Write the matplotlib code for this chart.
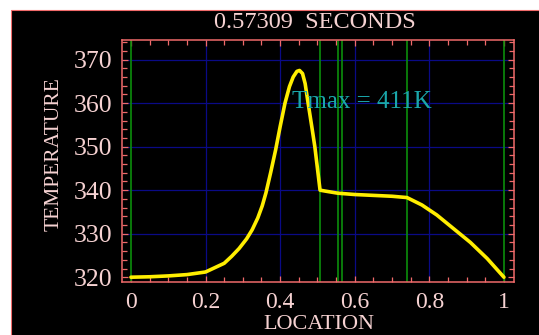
import matplotlib
matplotlib.use("Agg")
import matplotlib.pyplot as plt
from matplotlib.patches import Rectangle
from matplotlib.ticker import MultipleLocator

# Temperature profile along the normalised location
location = [0.0, 0.05, 0.10, 0.15, 0.20, 0.25, 0.27, 0.29, 0.31, 0.325,
            0.34, 0.352, 0.362, 0.375, 0.388, 0.40, 0.413, 0.425, 0.435,
            0.445, 0.452, 0.46, 0.467, 0.475, 0.485, 0.493, 0.50, 0.507,
            0.52, 0.555, 0.60, 0.65, 0.70, 0.74, 0.78, 0.82, 0.86, 0.91,
            0.955, 1.0]
temperature = [320.0, 320.1, 320.3, 320.6, 321.2, 323.2, 324.8, 326.6, 328.8,
               330.9, 333.6, 336.4, 339.4, 344.2, 349.3, 354.6, 360.0, 363.8,
               366.0, 367.3, 367.5, 366.8, 364.5, 360.0, 354.5, 350.0, 345.0,
               340.0, 339.8, 339.3, 339.0, 338.8, 338.6, 338.3, 336.6, 334.3,
               331.5, 328.0, 324.3, 320.0]

# Interface / node positions marked with vertical lines
interfaces = [0.0, 0.508, 0.556, 0.566, 0.739, 1.0]

x_ticks = [0, 0.2, 0.4, 0.6, 0.8, 1]
x_tick_labels = ["0", "0.2", "0.4", "0.6", "0.8", "1"]
y_ticks = [320, 330, 340, 350, 360, 370]

elapsed = "0.57309"
tmax_label = "Tmax = 411K"

SERIF = ["Liberation Serif", "DejaVu Serif"]
TXT = "#f6d2d2"
PINK = "#f06a6a"

fig = plt.figure(figsize=(5.39, 3.35), dpi=100)
fig.patch.set_facecolor("white")
fig.patches.append(Rectangle((11 / 539, -0.01), 1.0, 1 - 9.5 / 335 + 0.01,
                             transform=fig.transFigure, facecolor="black",
                             edgecolor=PINK, linewidth=0.8, zorder=-10))

ax = fig.add_axes([122 / 539, 1 - 282 / 335, 392 / 539, 242 / 335])
ax.set_zorder(5)
ax.set_facecolor("black")
ax.set_xlim(-0.024, 1.027)
ax.set_ylim(318.9, 374.5)

for gx in [0.2, 0.4, 0.6, 0.8]:
    ax.axvline(gx, color="#0a0a86", lw=0.9, zorder=1)
for gy in [330, 340, 350, 360, 370]:
    ax.axhline(gy, color="#0a0a86", lw=0.9, zorder=1)

for xi in interfaces:
    ax.axvline(xi, color="#0b8e0b", lw=1.2, zorder=2)

ax.plot(location, temperature, color="#ffee00", lw=2.6, zorder=3,
        solid_joinstyle="round", solid_capstyle="round")

ax.text(0.432, 360.2, tmax_label, color="#1aa6aa", fontsize=18,
        family=SERIF, va="center", ha="left", zorder=4)

for s in ax.spines.values():
    s.set_color(PINK)
    s.set_linewidth(1.1)

ax.set_xticks(x_ticks)
ax.set_xticklabels(x_tick_labels)
ax.set_yticks(y_ticks)
ax.xaxis.set_minor_locator(MultipleLocator(0.05))
ax.yaxis.set_minor_locator(MultipleLocator(2))
ax.tick_params(which="both", direction="in", color=PINK, top=True, right=True,
               labelcolor=TXT, width=0.9)
ax.tick_params(axis="x", labelsize=17)
ax.tick_params(axis="y", labelsize=18.5)
ax.tick_params(which="major", length=4, pad=7)
ax.tick_params(which="minor", length=3.5)
for lab in ax.get_xticklabels() + ax.get_yticklabels():
    lab.set_family(SERIF)

ax.set_xlabel("LOCATION", color=TXT, fontsize=16, family=SERIF)
ax.set_ylabel("TEMPERATURE", color=TXT, fontsize=15.5, family=SERIF)
ax.xaxis.set_label_coords(0.503, -0.138)
ax.yaxis.set_label_coords(-0.15, 0.527)

fig.text(315 / 539, 1 - 27.5 / 335, f"{elapsed}  SECONDS", color=TXT,
         fontsize=17.5, family=SERIF, ha="center", va="baseline")

fig.savefig("out.png", dpi=100, facecolor=fig.get_facecolor())
